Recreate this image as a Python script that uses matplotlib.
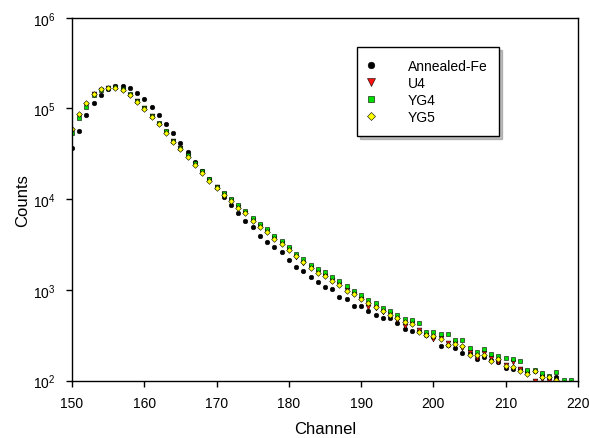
import matplotlib
matplotlib.use("Agg")
import matplotlib.pyplot as plt
import numpy as np

plt.rcParams['font.family'] = ['Liberation Sans', 'DejaVu Sans']
plt.rcParams['mathtext.default'] = 'regular'

channels = list(range(150, 220))

annealed_fe = [3.7e4, 5.7e4, 8.4e4, 1.14e5, 1.42e5, 1.65e5, 1.78e5, 1.78e5, 1.66e5, 1.48e5,
               1.26e5, 1.04e5, 8.5e4, 6.8e4, 5.3e4, 4.2e4, 3.3e4, 2.6e4, 2.05e4, 1.68e4,
               1.37e4, 1.07e4, 8.7e3, 7.0e3, 5.8e3, 4.9e3, 3.9e3, 3.4e3, 2.95e3, 2.6e3,
               2.15e3, 1.78e3, 1.6e3, 1.4e3, 1.23e3, 1.09e3, 1.02e3, 843, 795, 660,
               660, 590, 525, 495, 490, 433, 372, 355, 350, 320,
               301, 240, 247, 231, 202, 200, 174, 181, 170, 159,
               138, 136, 133, 128, 128, 116, 109, 109, 95, 92]

u4 = [5.7e4, 8.2e4, 1.1e5, 1.43e5, 1.6e5, 1.68e5, 1.71e5, 1.6e5, 1.41e5, 1.2e5,
      1.0e5, 8.2e4, 6.8e4, 5.5e4, 4.35e4, 3.65e4, 3.0e4, 2.45e4, 2.0e4, 1.63e4,
      1.35e4, 1.14e4, 9.7e3, 8.3e3, 7.1e3, 5.9e3, 5.1e3, 4.5e3, 3.7e3, 3.25e3,
      2.8e3, 2.3e3, 2.0e3, 1.8e3, 1.58e3, 1.42e3, 1.28e3, 1.15e3, 1.0e3, 900,
      800, 650, 640, 570, 540, 470, 400, 430, 360, 320,
      290, 295, 260, 260, 230, 205, 180, 200, 180, 160,
      150, 160, 135, 120, 100, 105, 100, 98, 90, 90]

yg4 = [5.4e4, 7.8e4, 1.05e5, 1.41e5, 1.58e5, 1.68e5, 1.72e5, 1.62e5, 1.43e5, 1.22e5,
       1.02e5, 8.3e4, 6.9e4, 5.6e4, 4.4e4, 3.7e4, 3.1e4, 2.5e4, 2.05e4, 1.68e4,
       1.38e4, 1.18e4, 1.0e4, 8.6e3, 7.4e3, 6.2e3, 5.3e3, 4.7e3, 3.9e3, 3.45e3,
       2.95e3, 2.5e3, 2.2e3, 1.9e3, 1.7e3, 1.57e3, 1.4e3, 1.26e3, 1.1e3, 968,
       890, 776, 726, 630, 583, 530, 476, 471, 427, 346,
       341, 325, 330, 283, 283, 228, 209, 224, 195, 185,
       179, 174, 166, 132, 132, 122, 112, 126, 101, 101]

yg5 = [6.0e4, 8.6e4, 1.14e5, 1.45e5, 1.62e5, 1.69e5, 1.7e5, 1.58e5, 1.4e5, 1.19e5,
       9.9e4, 8.1e4, 6.7e4, 5.4e4, 4.3e4, 3.6e4, 2.95e4, 2.4e4, 1.95e4, 1.6e4,
       1.32e4, 1.12e4, 9.5e3, 8.1e3, 7.0e3, 5.8e3, 5.0e3, 4.4e3, 3.6e3, 3.2e3,
       2.75e3, 2.35e3, 2.05e3, 1.74e3, 1.54e3, 1.44e3, 1.25e3, 1.12e3, 980, 904,
       795, 720, 650, 590, 534, 490, 440, 422, 340, 316,
       310, 288, 247, 255, 240, 194, 190, 190, 166, 175,
       145, 140, 129, 118, 128, 109, 109, 102, 95, 94]

series = [
    ("Annealed-Fe", annealed_fe, dict(marker='o', color='black', mec='black', ms=3.3, mew=0.4)),
    ("U4", u4, dict(marker='v', color='#ff1010', mec='black', ms=3.5, mew=0.4)),
    ("YG4", yg4, dict(marker='s', color='#00e000', mec='black', ms=2.9, mew=0.4)),
    ("YG5", yg5, dict(marker='D', color='#ffff00', mec='black', ms=2.9, mew=0.4)),
]

fig = plt.figure(figsize=(5.89, 4.39), dpi=100)
ax = fig.add_axes([72/589, 1-381.7/439, (578-72)/589, (381.7-18.7)/439])

for name, vals, st in series:
    ax.plot(channels, vals, linestyle='none', label=name, **st)

ax.set_yscale('log')
ax.set_xlim(150, 220)
ax.set_ylim(1e2, 1e6)
ax.set_xticks(range(150, 221, 10))
ax.set_yticks([1e2, 1e3, 1e4, 1e5, 1e6])
ax.yaxis.set_minor_locator(matplotlib.ticker.NullLocator())
ax.tick_params(axis='both', which='major', direction='out', length=4, width=1,
               labelsize=10, top=False, right=False)
ax.tick_params(axis='x', pad=7)
ax.tick_params(axis='y', pad=8)
for sp in ax.spines.values():
    sp.set_linewidth(1.0)
ax.set_xlabel("Channel", fontsize=12, labelpad=8)
ax.set_ylabel("Counts", fontsize=12, labelpad=2)

leg = ax.legend(loc='upper left', bbox_to_anchor=(357/589, 1-48/439),
                bbox_transform=fig.transFigure, frameon=True, fancybox=False,
                shadow={'color': '#808080'}, edgecolor='black', fontsize=10,
                markerscale=1.45, handlelength=0.3, handletextpad=2.5,
                borderpad=0.85, labelspacing=0.22, borderaxespad=0)
leg.get_frame().set_linewidth(1.0)

fig.savefig("out.png", dpi=100)
